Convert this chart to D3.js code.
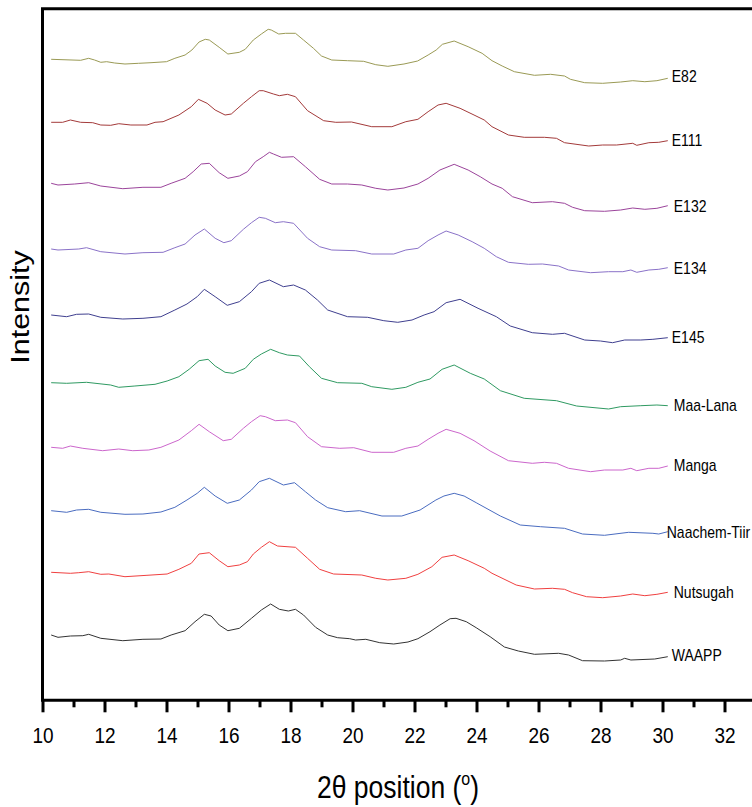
<!DOCTYPE html>
<html>
<head>
<meta charset="utf-8">
<script src="https://cdn.jsdelivr.net/npm/d3@7"></script>
<style>
  html, body { margin: 0; padding: 0; background: #fff; }
  svg { display: block; }
  text { font-family: "Liberation Sans", Arial, sans-serif; fill: #000; }
</style>
</head>
<body>
<svg id="chart" width="752" height="807"></svg>
<script>
// ---- Data (intensity in arbitrary units) ----
const seriesNames = ["E82", "E111", "E132", "E134", "E145", "Maa-Lana", "Manga", "Naachem-Tiir", "Nutsugah", "WAAPP"];
const offsets = [576, 513, 452, 386, 320, 252, 188, 125, 63, 0];
const colors = ["#9a9a55", "#a33a3a", "#9b449b", "#8a72c8", "#3f3f8f", "#2f9a62", "#cc66cc", "#4a6cc0", "#f04040", "#333333"];

const E82 = [[10.28,64.7],[11.23,63.7],[11.49,65.7],[11.68,64],[11.88,61.7],[12.07,62.3],[12.33,61],[12.66,60],[13.1,60.7],[13.5,61.3],[14.0,62.3],[14.27,65.7],[14.6,69],[14.82,74],[15.05,82],[15.25,84.7],[15.38,84],[15.7,76.7],[15.98,70],[16.35,71.7],[16.54,74.7],[16.8,84],[17.06,90],[17.28,94.7],[17.38,94],[17.62,90],[17.84,90.7],[18.16,90.7],[18.42,84],[18.74,75.7],[19.0,68],[19.33,64],[19.84,63.3],[20.36,62.7],[20.75,59.3],[21.14,57.7],[21.66,60],[22.1,63],[22.44,69],[22.7,74],[22.9,79.7],[23.28,83],[23.73,77.3],[24.18,70.7],[24.5,63.3],[24.83,58],[25.22,52.3],[25.87,48.7],[26.39,49.7],[26.84,48],[27.03,44.7],[27.49,41.3],[28.07,40.7],[28.65,42],[29.04,43.3],[29.43,42.3],[29.82,43.3],[30.17,45.7]];
const E111 = [[10.28,64.7],[10.65,64.7],[10.9,67],[11.23,64.7],[11.62,64.3],[11.88,62],[12.2,61.7],[12.46,63.3],[12.85,62],[13.37,62],[13.63,64.7],[13.89,65.3],[14.4,72],[14.8,80.3],[15.03,87.7],[15.31,83.7],[15.57,77],[15.89,72],[16.09,73],[16.48,83.7],[16.74,90.3],[16.99,96.3],[17.12,96.3],[17.45,93],[17.64,91.3],[17.9,92.7],[18.16,90.3],[18.55,76.3],[19.07,66.3],[19.46,64.7],[19.97,65],[20.62,60.3],[21.27,60.3],[21.72,65.3],[22.11,67.7],[22.44,75.3],[22.76,82],[23.02,83.7],[23.47,78.7],[23.92,72],[24.25,67],[24.5,60.3],[25.03,52],[25.54,49.7],[26.19,49.7],[26.58,48.7],[26.84,44.3],[27.62,41],[28.07,42],[28.52,42],[29.04,43.7],[29.17,41.7],[29.56,44.3],[29.88,44.7],[30.17,46.3]];
const E132 = [[10.28,64.7],[10.5,63],[11.04,64],[11.49,65.3],[11.88,62],[12.59,59.3],[13.24,60.7],[13.82,60.7],[14.15,64.7],[14.6,69.7],[14.86,76.3],[15.12,84],[15.38,84.7],[15.7,75.3],[15.98,69.7],[16.35,72],[16.61,76.3],[16.87,86.3],[17.12,91.3],[17.32,95.7],[17.45,94],[17.71,90.7],[18.1,91.3],[18.48,81.3],[18.94,68.7],[19.33,64],[19.84,64],[20.3,63],[20.75,59.7],[21.14,58],[21.66,60],[22.11,64],[22.44,69.7],[22.82,78],[23.28,83.7],[23.73,78],[24.12,71.3],[24.5,64],[24.83,59.7],[25.16,51.3],[25.8,45.3],[26.45,46.3],[26.84,44.7],[27.1,40.7],[27.49,37.3],[28.13,36.7],[28.65,38],[29.04,40],[29.43,38.7],[29.82,39.7],[30.17,42.3]];
const E134 = [[10.28,65],[10.5,64],[11.17,65],[11.42,66.3],[11.88,62.3],[12.66,60],[13.24,61.3],[13.89,61.7],[14.27,66.3],[14.6,70],[14.92,79],[15.22,85],[15.57,75.7],[15.85,71.3],[16.09,73.3],[16.48,84.7],[16.74,91.3],[16.99,96.7],[17.19,95.7],[17.51,91.3],[17.77,92.3],[18.1,90.7],[18.55,75.7],[18.94,67.3],[19.33,64],[20.1,63.3],[20.62,60],[21.33,60],[21.72,64],[22.11,65.7],[22.44,73.3],[22.76,79],[23.02,83],[23.41,79],[23.86,72.3],[24.25,65.7],[24.64,57.3],[25.03,51.7],[25.67,49.7],[26.13,50],[26.65,48],[26.97,44],[27.68,41.3],[28.26,42.3],[28.72,42.3],[28.98,44],[29.17,41.7],[29.56,44],[29.88,44.7],[30.17,46.3]];
const E145 = [[10.28,65],[10.78,63.3],[11.1,65.7],[11.49,66],[11.88,62.7],[12.59,61],[13.24,61.7],[13.82,63.3],[14.27,70],[14.66,76],[14.99,83.3],[15.22,90.7],[15.57,83.3],[15.96,74.7],[16.35,78.3],[16.74,88.3],[16.99,96.7],[17.32,100],[17.77,93.3],[18.1,95],[18.48,90],[18.87,80],[19.2,70],[19.84,63.3],[20.49,62.7],[21.01,59.3],[21.46,57.7],[21.92,60],[22.31,65],[22.63,68.3],[23.02,77.3],[23.47,80.7],[24.05,71.7],[24.64,63.3],[25.09,54],[25.8,47.3],[26.45,45.7],[26.84,46.7],[27.49,40],[28.0,39],[28.39,37.3],[28.78,40],[29.3,40],[29.69,40.7],[30.17,42.3]];
const MaaLana = [[10.28,65.3],[10.78,64.7],[11.42,65.7],[12.2,63],[12.46,60.7],[12.98,62],[13.63,63.7],[14.02,67],[14.4,71.3],[14.73,78.7],[15.05,87.3],[15.34,88.7],[15.57,82],[15.89,75.7],[16.15,74.7],[16.54,79.7],[16.8,88.7],[17.06,94],[17.36,98.7],[17.64,95.3],[17.9,93],[18.29,92],[18.61,81.3],[19.0,69.7],[19.52,65.3],[20.3,64.7],[20.62,61.3],[21.27,58.7],[21.72,60.7],[22.11,65.7],[22.5,69],[22.89,78.7],[23.28,83],[23.8,74.7],[24.25,69],[24.77,57.3],[25.54,49.7],[26.58,47.3],[27.23,42],[28.26,39],[28.65,41.3],[29.3,42.3],[29.82,43],[30.17,42.3]];
const Manga = [[10.28,64.7],[10.65,63.7],[10.9,66],[11.3,63.7],[11.94,61.3],[12.46,63],[12.91,61.3],[13.43,62],[13.82,64.7],[14.4,72],[14.8,81.3],[15.05,87.7],[15.38,80.3],[15.83,71.3],[16.09,72.7],[16.48,83.7],[16.74,90.3],[17.02,96.3],[17.19,95.3],[17.51,91.3],[17.9,92],[18.16,89.3],[18.55,75.3],[19.0,65.3],[19.59,63.7],[20.04,64.3],[20.62,59.7],[21.33,59.7],[21.72,63.7],[22.11,66],[22.44,72.7],[22.76,78.7],[23.02,82.7],[23.47,78.7],[23.92,71.3],[24.44,61],[25.03,51.3],[25.8,48.7],[26.19,49.7],[26.58,48.7],[26.97,43.7],[27.68,40.3],[28.13,42],[28.72,42],[28.98,43.7],[29.17,41.3],[29.56,43.7],[29.88,43.7],[30.17,46]];
const NaachemTiir = [[10.28,64.3],[10.78,62.7],[11.1,65],[11.49,65.7],[11.88,62.7],[12.66,60.7],[13.24,61],[13.82,63],[14.27,67.7],[14.66,75],[14.99,81.7],[15.22,87.7],[15.57,79],[15.96,71.7],[16.35,75],[16.74,85],[16.99,93.3],[17.32,96.7],[17.77,90],[18.13,92.3],[18.48,83.3],[18.81,75],[19.2,67.3],[19.78,63.3],[20.23,64.3],[20.95,59],[21.59,59],[22.18,65],[22.69,75],[22.95,79],[23.28,81.7],[23.6,79],[23.99,72.3],[24.77,59],[25.41,50],[26.06,48.3],[26.84,46.7],[27.42,41],[28.13,39.7],[28.91,42.7],[29.69,41.7],[29.88,41],[30.17,43.3]];
const Nutsugah = [[10.28,64.7],[10.9,63.7],[11.17,64.3],[11.49,65.3],[11.88,62.7],[12.14,63],[12.66,60.3],[13.37,61.7],[14.02,63],[14.4,67.7],[14.8,73.7],[15.05,83],[15.38,84.3],[15.7,76.3],[15.98,70.3],[16.35,72],[16.61,75.3],[16.8,83],[17.06,89.7],[17.32,95.3],[17.58,91],[18.16,89.7],[18.55,78.7],[18.94,67.7],[19.39,63],[20.3,62],[20.75,58.7],[21.14,57],[21.72,58.7],[22.11,62.7],[22.56,70.3],[22.89,79.7],[23.28,82],[23.73,76.3],[24.25,68.7],[24.5,63.7],[25.28,52],[25.87,48],[26.45,48.7],[26.84,47.7],[27.1,44.3],[27.55,40.3],[28.07,39.3],[28.65,41],[29.04,43],[29.43,41.3],[29.82,42.7],[30.17,44.7]];
const WAAPP = [[10.28,65],[10.5,62.7],[10.9,64],[11.3,64.3],[11.49,65.7],[11.88,61.7],[12.59,59.3],[13.24,60.7],[13.82,61],[14.15,65],[14.6,69.3],[14.92,78.3],[15.22,85.7],[15.44,84],[15.7,75],[15.98,69.3],[16.35,71.7],[16.74,81.7],[17.06,90],[17.36,96],[17.64,90.7],[17.93,89],[18.16,90.7],[18.42,85],[18.81,72.7],[19.2,65],[19.52,62.3],[19.91,61.3],[20.1,60],[20.43,60.7],[20.88,57.3],[21.33,56],[21.79,58],[22.11,61.3],[22.5,68.3],[22.82,75],[23.15,81.3],[23.34,81.7],[23.67,78.3],[23.99,72.3],[24.44,63.3],[24.9,53],[25.35,49],[25.87,45.7],[26.65,46.7],[26.97,45],[27.42,39.3],[28.13,39],[28.65,40],[28.78,41.7],[28.98,40],[29.75,41],[30.17,43.3]];

const seriesValues = [E82, E111, E132, E134, E145, MaaLana, Manga, NaachemTiir, Nutsugah, WAAPP];

const majorTicks = [10, 12, 14, 16, 18, 20, 22, 24, 26, 28, 30, 32];
const minorTicks = [11, 13, 15, 17, 19, 21, 23, 25, 27, 29, 31, 33];
const xTitle = "2θ position (";
const yTitle = "Intensity";

// ---- Layout ----
const svg = d3.select("#chart");
const plotLeft = 42.5, plotBottom = 700.3, plotTop = 8.8;
const stretch = 1.15; // vertical stretch of text as in the reference

const x = d3.scaleLinear().domain([10, 34]).range([plotLeft, plotLeft + 24 * 31]);
const y = d3.scaleLinear().domain([0, 700]).range([700, 0]);

// Series lines
const line = d3.line().x(d => x(d[0])).y(d => y(d[1]));
const labelDx = [4, 4, 6, 6, 4, 6, 6, -1, 6, 4];
const labelDy = [-2, -1, 0, 0, -1, -1, -1, 0, 0, -2];

seriesValues.forEach((vals, i) => {
  const shifted = vals.map(d => [d[0], d[1] + offsets[i]]);
  svg.append("path")
    .attr("d", line(shifted))
    .attr("fill", "none")
    .attr("stroke", colors[i])
    .attr("stroke-width", 1)
    .attr("stroke-linejoin", "round");
  const last = shifted[shifted.length - 1];
  svg.append("text")
    .attr("transform", `translate(${x(last[0]) + labelDx[i]},${y(last[1]) + labelDy[i]}) scale(1,${stretch})`)
    .attr("dominant-baseline", "central")
    .attr("font-size", 14)
    .text(seriesNames[i]);
});

// Frame (top and left, right side extends past the canvas)
svg.append("path")
  .attr("d", `M${plotLeft},${plotBottom} V${plotTop} H${x(36)}`)
  .attr("fill", "none").attr("stroke", "#000").attr("stroke-width", 3);

// X axis
const xAxis = d3.axisBottom(x).tickValues(majorTicks).tickSize(12).tickFormat(d3.format("d"));
const gx = svg.append("g").attr("transform", `translate(0,${plotBottom})`).call(xAxis);
gx.select(".domain").attr("d", `M${plotLeft - 1.5},0 H${x(36)}`).attr("stroke-width", 3);
gx.selectAll(".tick line").attr("stroke-width", 3);
gx.selectAll(".tick text").remove();
gx.selectAll(".tick").append("text")
  .attr("transform", `translate(0,43) scale(1,${stretch})`)
  .attr("text-anchor", "middle")
  .attr("font-size", 19)
  .attr("fill", "#000")
  .attr("font-family", "Liberation Sans, Arial, sans-serif")
  .text(d => d);

const minorAxis = d3.axisBottom(x).tickValues(minorTicks).tickSize(7).tickFormat("");
const gm = svg.append("g").attr("transform", `translate(0,${plotBottom})`).call(minorAxis);
gm.select(".domain").remove();
gm.selectAll(".tick line").attr("stroke-width", 3);

// Axis titles
const xt = svg.append("text")
  .attr("transform", `translate(398,798) scale(1,${stretch})`)
  .attr("text-anchor", "middle")
  .attr("font-size", 26.5);
xt.append("tspan").text(xTitle);
xt.append("tspan").attr("font-size", 16).attr("dy", -11).text("o");
xt.append("tspan").attr("dy", 11).text(")");

svg.append("text")
  .attr("transform", `translate(29,307) scale(1,${stretch}) rotate(-90)`)
  .attr("text-anchor", "middle")
  .attr("font-size", 26.5)
  .text(yTitle);
</script>
</body>
</html>
